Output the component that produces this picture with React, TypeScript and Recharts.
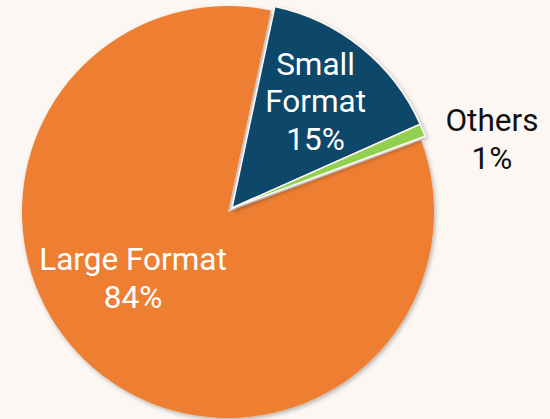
import React from "react";
import { Cell, Pie, PieChart } from "recharts";

const categories = ["Small Format", "Others", "Large Format"];
const shares = [15, 1, 84];
const colors = ["#0b466b", "#92d050", "#ee7f31"];
const exploded = [true, true, false];

const bg = "#fcf7f3";
const data = categories.map((name, i) => ({ name, value: shares[i] }));

// label placement: radius factor along the slice mid angle, plus nudge
const labelPlace: Record<string, { rf: number; dx: number; dy: number; color: string }> = {
  "Small Format": { rf: 0.66, dx: -2, dy: -1, color: "#ffffff" },
  Others: { rf: 1.3, dx: 12, dy: 32, color: "#111111" },
  "Large Format": { rf: 0.55, dx: -21, dy: -20, color: "#ffffff" },
};

const RAD = Math.PI / 180;

function renderLabel(props: any) {
  const { cx, cy, midAngle, outerRadius, name, value } = props;
  const p = labelPlace[name];
  if (!p) return null;
  const x = cx + outerRadius * p.rf * Math.cos(-midAngle * RAD) + p.dx;
  const y = cy + outerRadius * p.rf * Math.sin(-midAngle * RAD) + p.dy;
  const words = name.split(" ");
  const lines = name === "Large Format" ? [name, `${value}%`] : [...words, `${value}%`];
  const lh = 37.5;
  const top = y - ((lines.length - 1) * lh) / 2;
  return (
    <text
      key={name}
      x={x}
      y={top}
      fill={p.color}
      textAnchor="middle"
      dominantBaseline="central"
      style={{ fontFamily: "Roboto, sans-serif", fontSize: 31.5 }}
    >
      {lines.map((l, i) => (
        <tspan key={i} x={x} y={top + i * lh}>
          {l}
        </tspan>
      ))}
    </text>
  );
}

export default function App() {
  const start = 78;
  return (
    <div style={{ position: "fixed", left: 0, top: 0, width: 550, height: 419, background: bg }}>
      <svg width={0} height={0} style={{ position: "absolute" }}>
        <defs>
          <filter id="shadow" x="-20%" y="-20%" width="140%" height="140%">
            <feDropShadow dx={1.5} dy={2} stdDeviation={2} floodColor="#000" floodOpacity={0.28} />
          </filter>
        </defs>
      </svg>
      <PieChart width={550} height={419} margin={{ top: 0, right: 0, bottom: 0, left: 0 }}>
        <Pie
          data={data}
          dataKey="value"
          nameKey="name"
          cx={228}
          cy={212}
          outerRadius={206}
          startAngle={start}
          endAngle={start - 360}
          stroke="none"
          isAnimationActive={false}
          labelLine={false}
          label={(p: any) => (exploded[p.index] ? null : renderLabel(p))}
          style={{ filter: "url(#shadow)" }}
        >
          {data.map((d, i) => (
            <Cell key={d.name} fill={exploded[i] ? "transparent" : colors[i]} />
          ))}
        </Pie>
        <Pie
          data={data}
          dataKey="value"
          nameKey="name"
          cx={232}
          cy={208}
          outerRadius={206}
          startAngle={start}
          endAngle={start - 360}
          stroke={bg}
          strokeWidth={1.5}
          isAnimationActive={false}
          labelLine={false}
          label={(p: any) => (exploded[p.index] ? renderLabel(p) : null)}
          style={{ filter: "url(#shadow)" }}
        >
          {data.map((d, i) => (
            <Cell key={d.name} fill={exploded[i] ? colors[i] : "transparent"} stroke={exploded[i] ? bg : "none"} />
          ))}
        </Pie>
      </PieChart>
    </div>
  );
}
